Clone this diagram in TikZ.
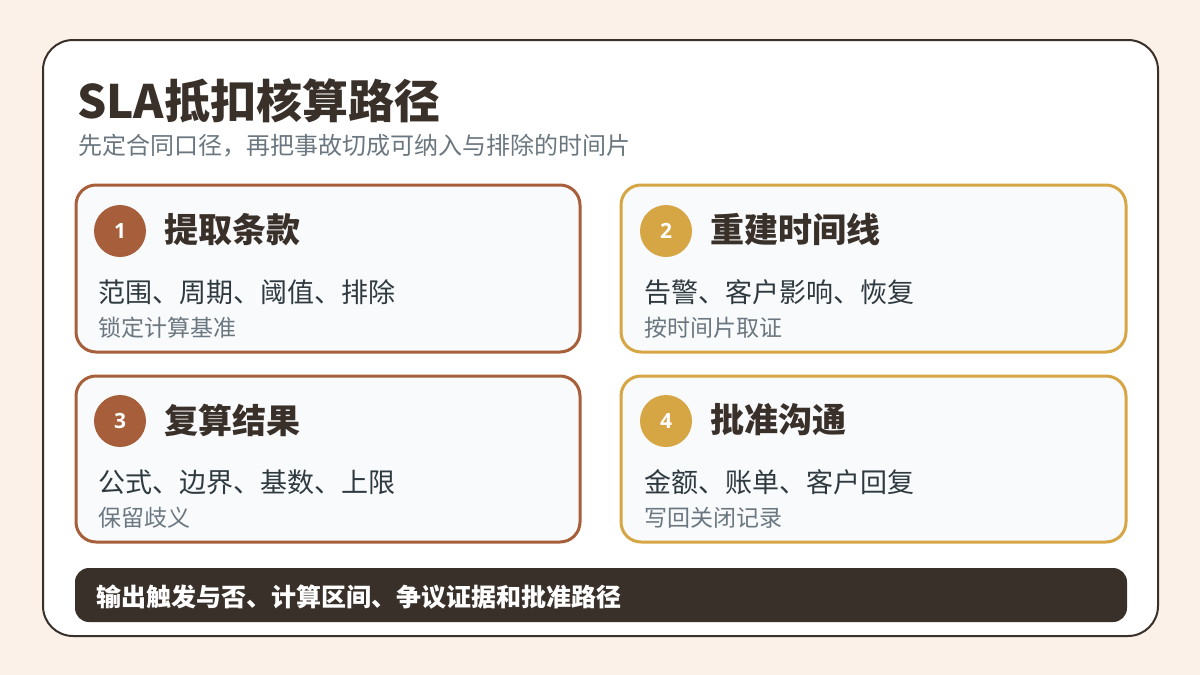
\documentclass[tikz,border=0pt]{standalone}
\usepackage{fontspec}
\setmainfont{Open Sans}
\newfontfamily\numfont{Open Sans}
\newfontfamily\cjk{Noto Sans CJK SC}
\definecolor{bg}{HTML}{FBF1E9}
\definecolor{ink}{HTML}{3A302A}
\definecolor{rust}{HTML}{A65F3A}
\definecolor{gold}{HTML}{D6A645}
\definecolor{cardfill}{HTML}{F8FAFC}
\definecolor{body}{HTML}{2F3A40}
\definecolor{muted}{HTML}{6B7780}
\tikzset{
  card/.style={draw=#1, line width=3pt, fill=cardfill, rounded corners=20pt},
  badge/.style={circle, fill=#1, minimum size=52pt, inner sep=0pt, text=white, font=\numfont\bfseries\fontsize{21}{24}\selectfont},
  cardtitle/.style={anchor=west, inner sep=0pt, text=ink, font=\cjk\bfseries\fontsize{34}{38}\selectfont},
  cardline/.style={anchor=west, inner sep=0pt, text=body, font=\cjk\fontsize{27}{30}\selectfont},
  cardsub/.style={anchor=west, inner sep=0pt, text=muted, font=\cjk\fontsize{23}{26}\selectfont},
}
\begin{document}
\begin{tikzpicture}[x=1pt,y=-1pt]
\useasboundingbox (0,0) rectangle (1200,675);
\fill[bg] (0,0) rectangle (1200,675);
\draw[ink, line width=2pt, fill=white, rounded corners=30pt] (43,40) rectangle (1158,636);
\node[anchor=west, inner sep=0pt, text=ink, font=\cjk\bfseries\fontsize{46}{52}\selectfont] (title) at (77,101) {SLA抵扣核算路径};
\node[anchor=west, inner sep=0pt, text=muted, font=\cjk\fontsize{24}{28}\selectfont] (subtitle) at (78,146) {先定合同口径，再把事故切成可纳入与排除的时间片};
% cards
\draw[card=rust] (76,185) rectangle (580,352);
\draw[card=gold] (621,185) rectangle (1126,352);
\draw[card=rust] (76,376) rectangle (580,542);
\draw[card=gold] (621,376) rectangle (1126,542);
% card 1
\node[badge=rust] (b1) at (120,231) {1};
\node[cardtitle] (t1) at (164,230) {提取条款};
\node[cardline] (l1) at (98,292) {范围、周期、阈值、排除};
\node[cardsub] (s1) at (98,328) {锁定计算基准};
% card 2
\node[badge=gold] (b2) at (666,231) {2};
\node[cardtitle] (t2) at (710,230) {重建时间线};
\node[cardline] (l2) at (644,292) {告警、客户影响、恢复};
\node[cardsub] (s2) at (644,328) {按时间片取证};
% card 3
\node[badge=rust] (b3) at (120,421) {3};
\node[cardtitle] (t3) at (164,420) {复算结果};
\node[cardline] (l3) at (98,482) {公式、边界、基数、上限};
\node[cardsub] (s3) at (98,518) {保留歧义};
% card 4
\node[badge=gold] (b4) at (666,421) {4};
\node[cardtitle] (t4) at (710,420) {批准沟通};
\node[cardline] (l4) at (644,482) {金额、账单、客户回复};
\node[cardsub] (s4) at (644,518) {写回关闭记录};
% bottom bar
\fill[ink, rounded corners=14pt] (75,568) rectangle (1127,622);
\node[anchor=west, inner sep=0pt, text=white, font=\cjk\bfseries\fontsize{25}{28}\selectfont] (bar) at (96,597) {输出触发与否、计算区间、争议证据和批准路径};
\end{tikzpicture}
\end{document}
